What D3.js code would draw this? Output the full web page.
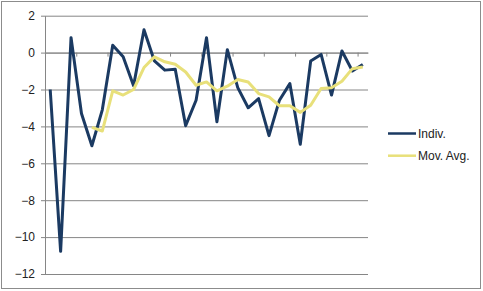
<!DOCTYPE html>
<html>
<head>
<meta charset="utf-8">
<script src="https://cdn.jsdelivr.net/npm/d3@7"></script>
<style>
body{margin:0;background:#fff;}
svg{display:block;font-family:"Liberation Sans",Arial,sans-serif;}
</style>
</head>
<body>
<svg id="chart" width="483" height="291"></svg>
<script>
// values
var indiv=[-2.0,-10.77,0.81,-3.3,-5.05,-3.1,0.4,-0.23,-1.8,1.24,
	-0.45,-0.95,-0.9,-3.96,-2.58,0.81,-3.75,0.16,-1.9,-2.99,
	-2.49,-4.5,-2.58,-1.68,-4.97,-0.45,-0.1,-2.3,0.09,-1.0,-0.65];
var movAvg=[null,null,null,null,-4.05,-4.25,-2.07,-2.3,-2.0,-0.81,
	-0.23,-0.5,-0.63,-1.05,-1.77,-1.59,-2.07,-1.82,-1.46,-1.59,
	-2.22,-2.4,-2.88,-2.88,-3.24,-2.85,-1.95,-1.9,-1.55,-0.87,-0.78];
var yTicks=[-12,-10,-8,-6,-4,-2,0,2];
var seriesNames=["Indiv.","Mov. Avg."];
var seriesColors=["#1b3a62","#e8e07a"];

var svg=d3.select("#chart")

var plotLeft=45,plotRight=368,plotTop=15.7,plotBottom=274;

var xScale=d3.scaleLinear()
.domain([0,indiv.length])
.range([plotLeft,plotRight])

var yScale=d3.scaleLinear()
.domain([-12,2])
.range([plotBottom,plotTop])

// outer border
svg.append("rect")
.attr("x",1.5).attr("y",1.5)
.attr("width",479).attr("height",287)
.attr("fill","none")
.attr("stroke","#8c8c8c")

// grid lines + labels
var yAxis=d3.axisLeft(yScale)
.tickValues(yTicks)
.tickSize(-(plotRight-plotLeft))
.tickSizeOuter(0)
.tickPadding(8)

var gy=svg.append("g")
.attr("transform","translate("+plotLeft+",0)")
.call(yAxis)

gy.select(".domain").attr("stroke","#868686")
gy.selectAll(".tick line")
.attr("stroke","#868686")
.attr("x1",-4)
gy.selectAll(".tick text")
.attr("x",-10)
.attr("font-size","12px")
.attr("fill","#222")

// category axis crossing at 0
var xAxis=d3.axisBottom(xScale)
.tickValues(d3.range(0,indiv.length+1,3))
.tickSize(4)
.tickSizeOuter(0)
.tickFormat("")

var gx=svg.append("g")
.attr("transform","translate(0,"+yScale(0)+")")
.call(xAxis)
gx.selectAll("line,path").attr("stroke","#868686")

var line=d3.line()
.defined(d=>d!==null)
.x((d,i)=>xScale(i+0.5))
.y(d=>yScale(d))

svg.append("path")
.datum(indiv)
.attr("d",line)
.attr("fill","none")
.attr("stroke",seriesColors[0])
.attr("stroke-width",3)
.attr("stroke-linejoin","round")

svg.append("path")
.datum(movAvg)
.attr("d",line)
.attr("fill","none")
.attr("stroke",seriesColors[1])
.attr("stroke-width",3)
.attr("stroke-linejoin","round")

// legend
var legend=svg.selectAll(".legend")
.data(seriesNames)
.enter()
.append("g")
.classed("legend",true)
.attr("transform",(d,i)=>"translate(388,"+(133.5+i*22.2)+")")

legend.append("line")
.attr("x1",0).attr("x2",28)
.attr("stroke",(d,i)=>seriesColors[i])
.attr("stroke-width",2.5)

legend.append("text")
.attr("x",30)
.attr("dy","0.35em")
.attr("font-size","12px")
.attr("fill","#222")
.text(d=>d)
</script>
</body>
</html>
